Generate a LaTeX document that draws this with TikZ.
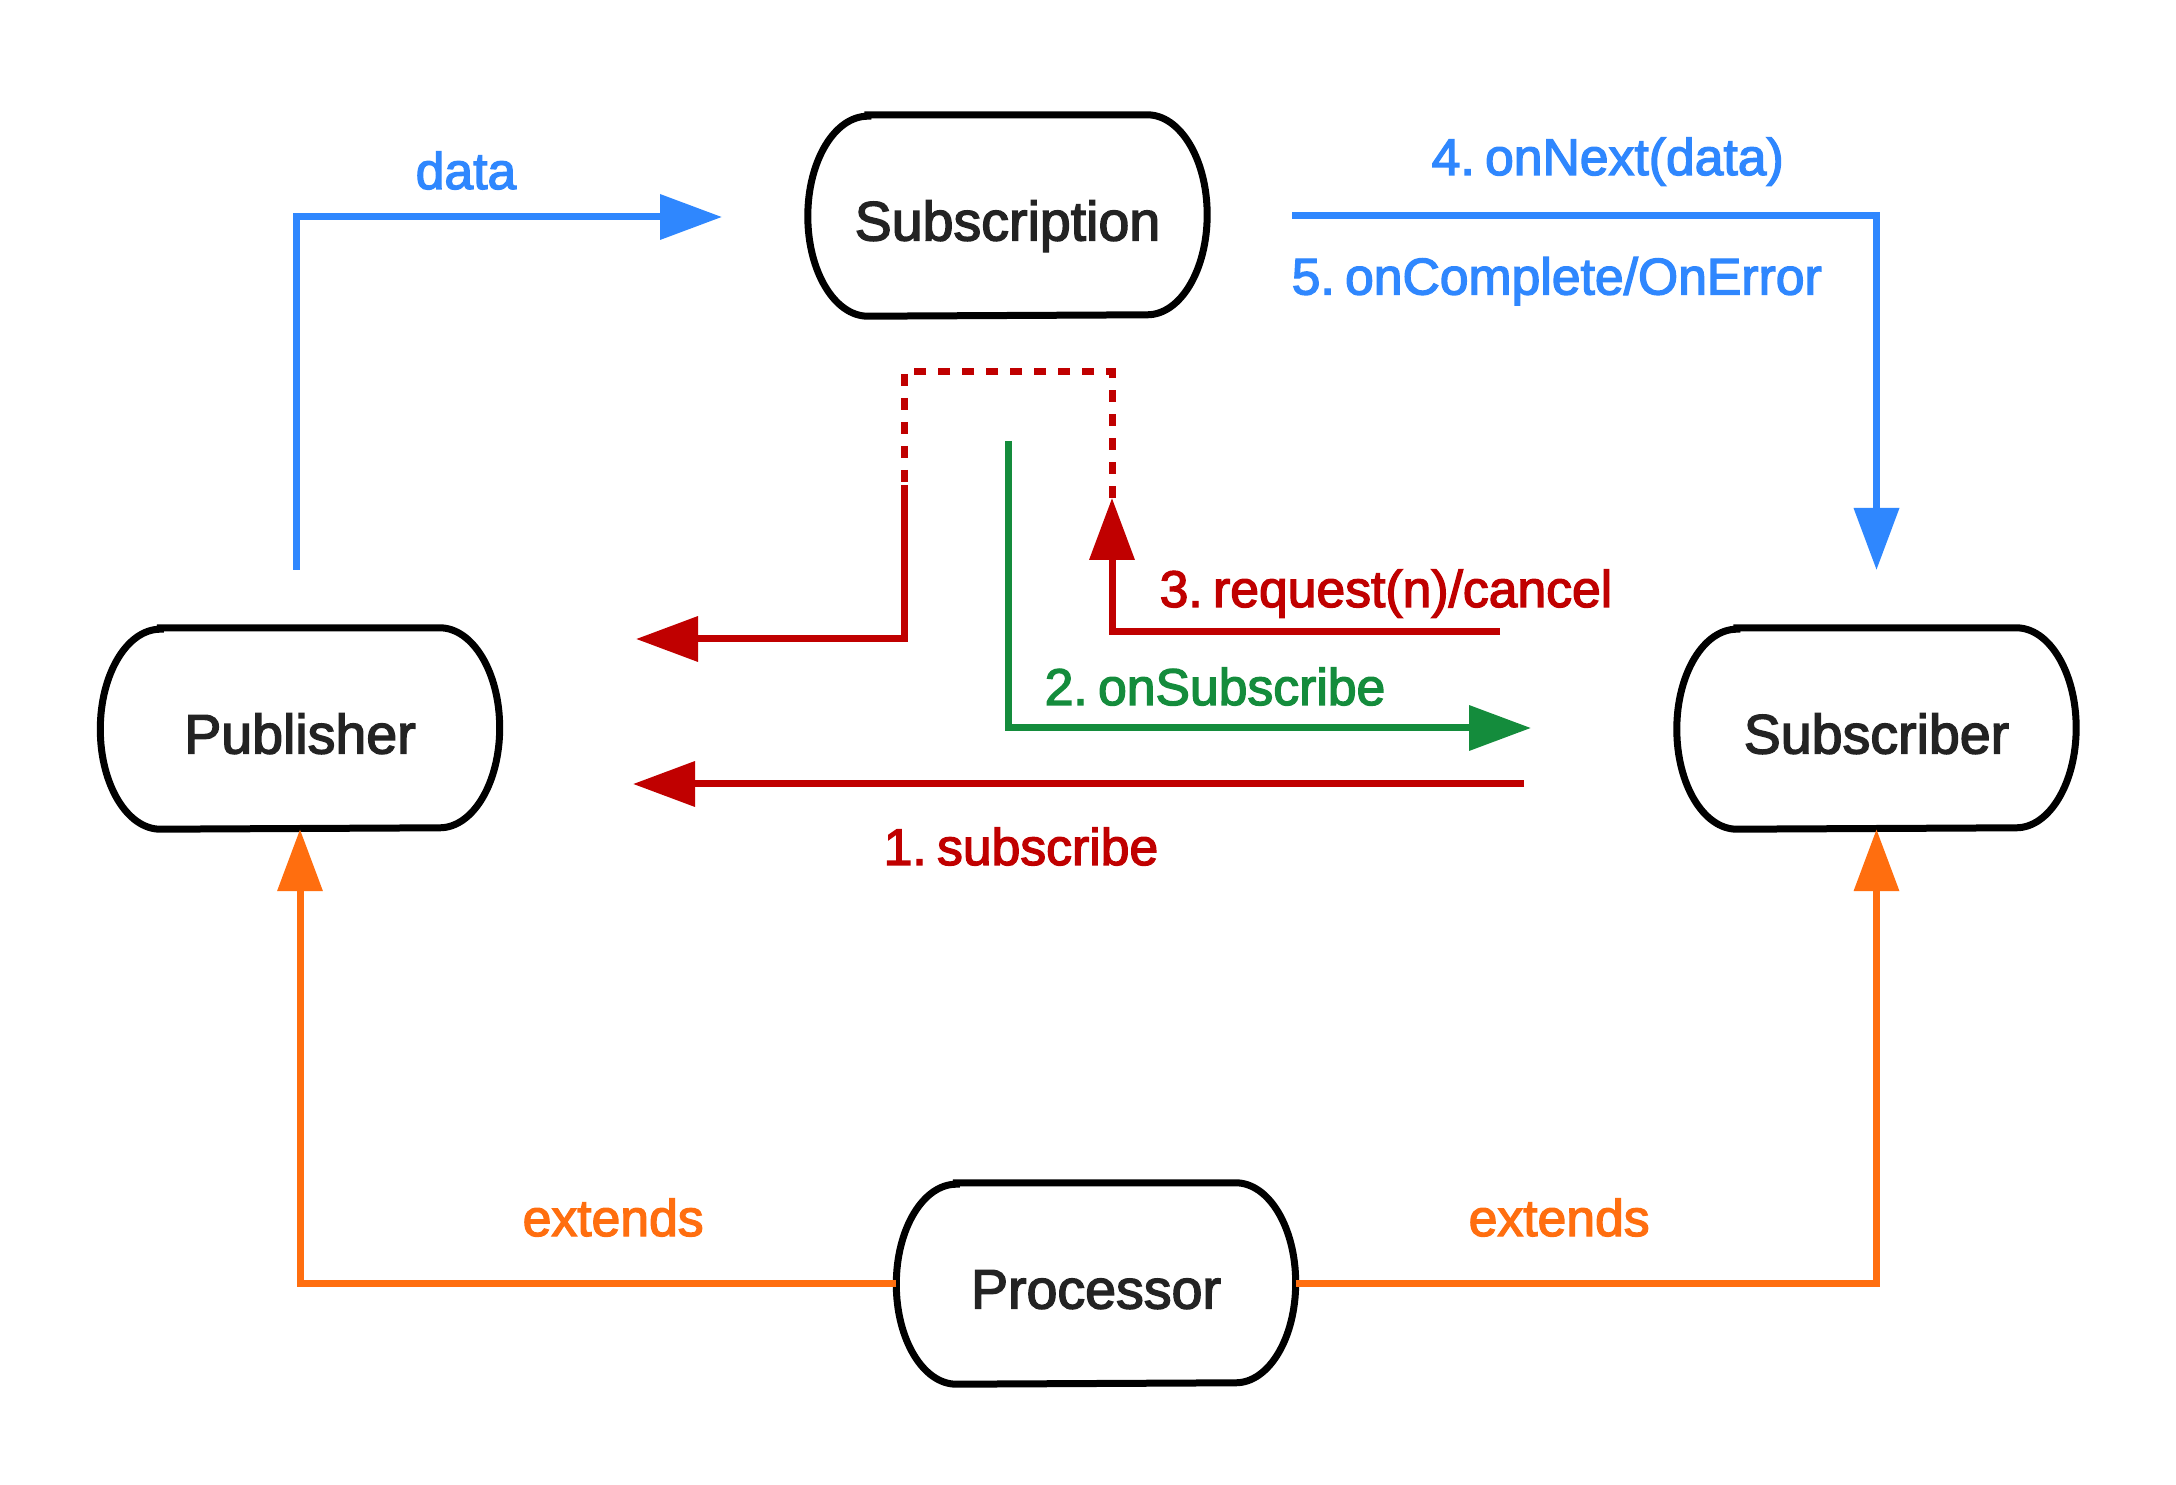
\documentclass[tikz,border=0pt]{standalone}
\usepackage{fontspec}
\newfontfamily\diafont{Liberation Sans}[FakeBold=2.6]
\newcommand\myboxfont{\diafont\fontsize{15.8pt}{18pt}\selectfont}
\newcommand\mylblfont{\diafont\fontsize{14.7pt}{17pt}\selectfont}
\usetikzlibrary{arrows.meta,calc}
\definecolor{blueA}{HTML}{2F87FE}
\definecolor{redA}{HTML}{C00000}
\definecolor{greenA}{HTML}{148C3C}
\definecolor{orangeA}{HTML}{FF6E0F}
\definecolor{textdark}{HTML}{232323}
\begin{document}
\begin{tikzpicture}[x=0.1mm,y=0.1mm,
  conn/.style={line width=0.7mm, line join=miter, -{Triangle[length=6.2mm,width=4.4mm]}},
  dashconn/.style={line width=0.7mm, line join=miter, dash pattern=on 1.2mm off 1.2mm},
  capsule/.style={draw=none, minimum width=39.8mm, minimum height=20mm, inner sep=0pt,
    text height=5mm, text depth=0mm, font=\myboxfont, text=textdark},
  boxline/.style={line width=0.7mm, draw=black},
  lbl/.style={anchor=base west, inner sep=0pt, font=\mylblfont}]
\fill[white] (0,0) rectangle (2176,1484);
\useasboundingbox (0,0) rectangle (2176,1484);

% boxes
\node[capsule] (sub)  at (1007.5,1268.5) {Subscription};
\node[capsule] (pub)  at (300,755.5) {Publisher};
\node[capsule] (scr)  at (1876.5,755.5) {Subscriber};
\node[capsule] (proc) at (1096,200.5) {Processor};
\foreach \n in {sub,pub,scr,proc}{
  \draw[boxline] ($(\n.north west)+(60,0)$) -- ($(\n.north east)+(-60,0)$)
    arc[start angle=90,end angle=-90,x radius=60,y radius=100]
    -- ($(\n.south west)+(60,0)$)
    arc[start angle=270,end angle=90,x radius=60,y radius=100] -- cycle;
}

% free ends
\coordinate (dataS) at (296,914);
\coordinate (dataE) at (722,1267);
\coordinate (nextS) at (1292,1268);
\coordinate (nextE) at (1876.5,914);
\coordinate (reqS) at (1500,852.5);
\coordinate (reqE) at (1112,986);
\coordinate (dashA) at (1112,1112);
\coordinate (dashB) at (904,1112);
\coordinate (cancS) at (904,999);
\coordinate (cancE) at (636,845);
\coordinate (osS) at (1008,1043);
\coordinate (osE) at (1531,756);
\coordinate (subsS) at (1524,700);
\coordinate (subsE) at (633,700);

% connectors
\draw[conn, blueA] (dataS) |- (dataE);
\draw[conn, blueA] (nextS) -| (nextE);
\draw[conn, redA] (reqS) -| (reqE);
\draw[dashconn, redA] (reqE) -- (dashA) -- (dashB) -- (cancS);
\draw[conn, redA] (cancS) |- (cancE);
\draw[conn, greenA] (osS) |- (osE);
\draw[conn, redA] (subsS) -- (subsE);
\draw[conn, orangeA] (proc.west) -| (pub.south);
\draw[conn, orangeA] (proc.east) -| (scr.south);

% labels
\node[lbl, anchor=base, text=blueA] (ldata) at (466,1295) {data};
\node[lbl, text=blueA] (lnext) at (1431,1309) {4.\hspace{0.2em}onNext(data)};
\node[lbl, text=blueA] (lcomp) at (1291,1189.5) {5.\hspace{0.2em}onComplete/OnError};
\node[lbl, text=redA] (lreq) at (1159,877) {3.\hspace{0.2em}request(n)/cancel};
\node[lbl, text=greenA] (los) at (1044,779) {2.\hspace{0.2em}onSubscribe};
\node[lbl, text=redA] (lsub) at (883,619) {1.\hspace{0.2em}subscribe};
\node[lbl, text=orangeA] (lextL) at (522,248) {extends};
\node[lbl, text=orangeA] (lextR) at (1468,248) {extends};
\end{tikzpicture}
\end{document}
